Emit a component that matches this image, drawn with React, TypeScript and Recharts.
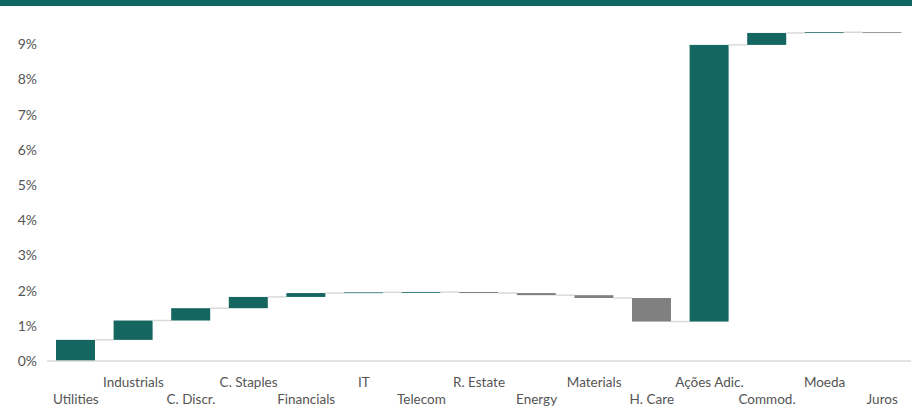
import React from 'react';
import { BarChart, Bar, XAxis, YAxis, Cell } from 'recharts';

const categories = ['Utilities', 'Industrials', 'C. Discr.', 'C. Staples', 'Financials', 'IT', 'Telecom', 'R. Estate', 'Energy', 'Materials', 'H. Care', 'Ações Adic.', 'Commod.', 'Moeda', 'Juros'];
const deltas = [0.60, 0.55, 0.35, 0.32, 0.11, 0.02, 0.01, -0.03, -0.06, -0.08, -0.67, 7.86, 0.34, 0.02, -0.02];
const yTicks = [0, 1, 2, 3, 4, 5, 6, 7, 8, 9];

const TEAL = '#156660';
const GRAY = '#808080';
const CONNECTOR = '#d9d9d9';
const BAND = 864 / 15;
const BAR_W = 39;

let acc = 0;
const data = categories.map((name, i) => {
  const start = acc;
  const end = acc + deltas[i];
  acc = end;
  return { name, delta: deltas[i], range: [Math.min(start, end), Math.max(start, end)] };
});

const BarShape = (props: any) => {
  const { x, y, width, height, payload, index } = props;
  const top = Math.min(y, y + height);
  const bottom = Math.max(y, y + height);
  const h = Math.max(bottom - top, 0.8);
  const fill = payload.delta >= 0 ? TEAL : GRAY;
  const endY = payload.delta >= 0 ? top : bottom;
  const last = index === data.length - 1;
  return (
    <g>
      <rect x={x} y={top} width={width} height={h} fill={fill} />
      {!last && (
        <line x1={x + width} x2={x + width + (BAND - width)} y1={endY} y2={endY} stroke={CONNECTOR} strokeWidth={1.5} />
      )}
    </g>
  );
};

const XTick = (props: any) => {
  const { x, y, payload, index } = props;
  const dy = index % 2 === 0 ? 35 : 18;
  return (
    <text x={x} y={y + dy} textAnchor="middle" fill="#555555" fontSize={13.5} fontFamily="Lato, 'Open Sans', sans-serif">
      {payload.value}
    </text>
  );
};

export default function App() {
  return (
    <div style={{ position: 'relative', width: 912, height: 407 }}>
      <style>{'body{margin:0;background:#fff;}'}</style>
      <div style={{ position: 'absolute', top: 0, left: 0, width: 912, height: 6, background: '#0f6560' }} />
      <BarChart width={912} height={407} data={data} margin={{ top: 9, right: 1, left: 0, bottom: 0 }} barSize={BAR_W}>
        <XAxis dataKey="name" interval={0} height={46} axisLine={{ stroke: CONNECTOR, strokeWidth: 1.5 }} tickLine={false} tick={<XTick />} />
        <YAxis
          width={47}
          domain={[0, 10]}
          ticks={yTicks}
          axisLine={false}
          tickLine={false}
          tickMargin={4}
          tickFormatter={(v: number) => `${v}%`}
          tick={{ fill: '#555555', fontSize: 14, fontFamily: "Lato, 'Open Sans', sans-serif" }}
        />
        <Bar dataKey="range" isAnimationActive={false} shape={<BarShape />}>
          {data.map((d, i) => (
            <Cell key={i} fill={d.delta >= 0 ? TEAL : GRAY} />
          ))}
        </Bar>
      </BarChart>
    </div>
  );
}
